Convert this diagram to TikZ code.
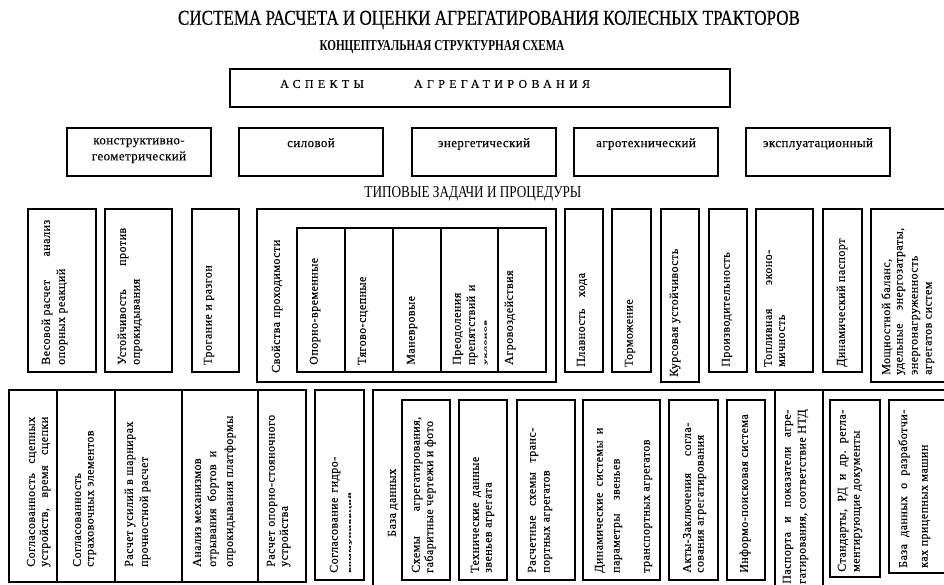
\documentclass[tikz,border=0pt]{standalone}
\usepackage{fontspec}
\setmainfont{Liberation Serif}
\usepackage{graphicx}
\tikzset{
  bx/.style={draw, line width=1.6pt, inner sep=0pt, outer sep=0pt},
  vt/.style={rotate=90, anchor=west, inner sep=0pt, font=\fontsize{12}{13}\selectfont\addfontfeature{LetterSpace=4,FakeBold=0.2}},
  hl/.style={inner sep=0pt, font=\fontsize{13}{16}\selectfont\addfontfeature{LetterSpace=3,FakeBold=0.2}, align=center, anchor=north},
  ttl/.style={inner sep=0pt},
}
\newcommand\mybox[5]{\node[bx, minimum width={(#4-#2)*1pt}, minimum height={(#5-#3)*1pt}] (#1) at ({(#2+#4)/2},{(#3+#5)/2}) {};}
\newcommand\vtx[4]{\node[vt] (#1) at (#2,#3) {#4};}
\newcommand\vjx[5]{\node[vt] (#1) at (#2,#3) {\hbox to #4pt{#5}};}
\newcommand\gp{\hskip 4pt plus 1fill\relax}
\newcommand\squash[1]{\scalebox{1}[0.35]{#1}}
\begin{document}
\begin{tikzpicture}[x=1pt,y=-1pt]
\path[use as bounding box] (0,0) rectangle (944,585);
\clip (0,0) rectangle (944,585);
% titles
\node[ttl] (title) at (489,20) {\resizebox{622pt}{14pt}{\addfontfeature{FakeBold=0.4}СИСТЕМА РАСЧЕТА И ОЦЕНКИ АГРЕГАТИРОВАНИЯ КОЛЕСНЫХ ТРАКТОРОВ}};
\node[ttl] (subtitle) at (442,47) {\resizebox{245pt}{10pt}{\bfseries КОНЦЕПТУАЛЬНАЯ СТРУКТУРНАЯ СХЕМА}};
% aspects
\mybox{asp}{230}{69}{730}{107}
\node[inner sep=0pt, anchor=west, font=\fontsize{12}{14}\selectfont\addfontfeature{LetterSpace=36,FakeBold=0.3}] (asptxt) at (280,84) {АСПЕКТЫ\hspace{50pt}АГРЕГАТИРОВАНИЯ};
\mybox{k1}{67}{128}{211}{176}
\mybox{k2}{239}{128}{383}{176}
\mybox{k3}{412}{128}{556}{176}
\mybox{k4}{574}{128}{718}{176}
\mybox{k5}{746}{128}{890}{176}
\node[hl] (k1t) at (139,138) {конструктивно-\\геометрический};
\node[hl] (k2t) at (311,138) {силовой};
\node[hl] (k3t) at (484,138) {энергетический};
\node[hl] (k4t) at (646,138) {агротехнический};
\node[hl] (k5t) at (818,138) {эксплуатационный};
\node[ttl] (tip) at (473,194) {\resizebox{217pt}{11pt}{ТИПОВЫЕ ЗАДАЧИ И ПРОЦЕДУРЫ}};
% top row of tasks
\mybox{tA}{28}{209}{96}{372}
\vjx{tA1}{47}{365}{145}{Весовой расчет\gp анализ}
\vtx{tA2}{62}{365}{опорных реакций}
\mybox{tB}{105}{209}{172}{372}
\vjx{tB1}{123}{365}{137}{Устойчивость\gp против}
\vtx{tB2}{138}{365}{опрокидывания}
\mybox{tC}{192}{209}{239}{372}
\vtx{tC1}{209}{365}{Трогание и разгон}
\mybox{tD}{257}{209}{556}{382}
\vjx{tD0}{277}{373}{133}{Свойства\gp проходимости}
\mybox{tD1}{297}{228}{345}{372}
\mybox{tD2}{345}{228}{393}{372}
\mybox{tD3}{393}{228}{441}{372}
\mybox{tD4}{441}{228}{498}{372}
\mybox{tD5}{498}{228}{546}{372}
\vtx{tD1t}{315}{365}{Опорно-временные}
\vtx{tD2t}{363}{365}{Тягово-сцепные}
\vtx{tD3t}{412}{365}{Маневровые}
\vtx{tD4a}{458}{365}{Преодоления}
\vjx{tD4b}{472}{365}{80}{препятствий\gp и}
\vtx{tD4c}{486}{365}{\squash{уклонов}}
\vtx{tD5t}{510}{365}{Агровоздействия}
\mybox{tE}{565}{209}{603}{372}
\vtx{tE1}{582}{367}{Плавность\hspace{8pt} хода}
\mybox{tF}{612}{209}{651}{372}
\vtx{tF1}{630}{367}{Торможение}
\mybox{tG}{661}{209}{699}{382}
\vtx{tG1}{675}{377}{Курсовая устойчивость}
\mybox{tH}{709}{209}{747}{372}
\vtx{tH1}{727}{367}{Производительность}
\mybox{tI}{756}{209}{813}{372}
\vjx{tI1}{768}{367}{117}{Топливная\gp эконо-}
\vtx{tI2}{782}{367}{мичность}
\mybox{tJ}{823}{209}{862}{372}
\vtx{tJ1}{842}{367}{Динамический паспорт}
\mybox{tK}{871}{209}{950}{382}
\vtx{tK1}{887}{375}{Мощностной баланс,}
\vjx{tK2}{901}{375}{147}{удельные\gp энергозатраты,}
\vtx{tK3}{916}{375}{энергонагруженность}
\vtx{tK4}{930}{375}{агрегатов систем}
% bottom row
\mybox{bA}{9}{390}{57}{582}
\vjx{bA1}{32}{567}{150}{Согласованность\gp сцепных}
\vjx{bA2}{45}{567}{150}{устройств,\gp время\gp сцепки}
\mybox{bB}{57}{390}{115}{582}
\vtx{bB1}{77}{567}{Согласованность}
\vtx{bB2}{92}{567}{страховочных элементов}
\mybox{bC}{115}{390}{182}{582}
\vtx{bC1}{130}{567}{Расчет усилий в шарнирах}
\vtx{bC2}{145}{567}{прочностной расчет}
\mybox{bD}{182}{390}{258}{582}
\vtx{bD1}{197}{567}{Анализ механизмов}
\vjx{bD2}{213}{567}{116}{отрывания\gp бортов\gp и}
\vtx{bD3}{230}{567}{опрокидывания платформы}
\mybox{bE}{258}{390}{306}{582}
\vjx{bE1}{272}{567}{149}{Расчет\gp опорно-стояночного}
\vtx{bE2}{285}{567}{устройства}
\mybox{bF}{315}{390}{364}{580}
\vjx{bF1}{335}{573}{116}{Согласование\gp гидро-}
\vtx{bF2}{350}{573}{\squash{коммуникаций}}
\mybox{bG}{373}{390}{775}{600}
\vtx{bG0}{393}{537}{База данных}
\mybox{bG1}{402}{400}{450}{580}
\vjx{bG1a}{417}{573}{156}{Схемы\gp агрегатирования,}
\vtx{bG1b}{430}{573}{габаритные чертежи и фото}
\mybox{bG2}{459}{400}{507}{580}
\vjx{bG2a}{476}{573}{116}{Технические\gp данные}
\vtx{bG2b}{490}{573}{звеньев агрегата}
\mybox{bG3}{517}{400}{575}{580}
\vjx{bG3a}{533}{573}{145}{Расчетные\gp схемы\gp транс-}
\vtx{bG3b}{548}{573}{портных агрегатов}
\mybox{bG4}{583}{400}{660}{580}
\vjx{bG4a}{600}{573}{145}{Динамические\gp системы\gp и}
\vtx{bG4b}{618}{573}{параметры\hspace{10pt} звеньев}
\vtx{bG4c}{648}{573}{транспортных агрегатов}
\mybox{bG5}{669}{400}{718}{580}
\vjx{bG5a}{687}{573}{150}{Акты-Заключения\gp согла-}
\vtx{bG5b}{702}{573}{сования агрегатирования}
\mybox{bG6}{727}{400}{765}{580}
\vtx{bG6a}{745}{573}{Информо-поисковая система}
\mybox{bH}{775}{390}{823}{600}
\vjx{bH1}{788}{584}{174}{Паспорта\gp и\gp показатели\gp агре-}
\vtx{bH2}{803}{584}{гатирования, соответствие НТД}
\mybox{bI}{823}{390}{950}{600}
\mybox{bI1}{830}{400}{880}{577}
\vjx{bI1a}{843}{572}{162}{Стандарты,\gp РД\gp и\gp др.\gp регла-}
\vtx{bI1b}{858}{572}{ментирующие документы}
\mybox{bI2}{889}{400}{950}{573}
\vjx{bI2a}{904}{568}{158}{База\gp данных\gp о\gp разработчи-}
\vtx{bI2b}{926}{568}{ках прицепных машин}
\end{tikzpicture}
\end{document}
